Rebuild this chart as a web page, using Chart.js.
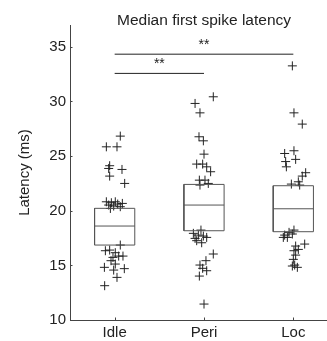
<!DOCTYPE html>
<html>
<head>
<meta charset="utf-8">
<script src="https://cdn.jsdelivr.net/npm/chart.js@4"></script>
<style>
  html, body { margin: 0; padding: 0; background: #fff; overflow: hidden; }
  #wrap { width: 327px; height: 341px; overflow: hidden; }
</style>
</head>
<body>
<div id="wrap"><canvas id="latencyChart" width="345" height="341"></canvas></div>
<script>
const categories = ['Idle', 'Peri', 'Loc'];
const yTicks = [10, 15, 20, 25, 30, 35];
const chartTitle = 'Median first spike latency';

// box edges per group (ms)
const q1 = [16.86, 18.17, 18.08];
const medians = [18.6, 20.52, 20.18];
const q3 = [20.22, 22.41, 22.29];

// individual recordings, latency (ms) and horizontal jitter (category units)
const idleLatency = [26.83, 25.85, 25.85, 24.12, 23.87, 23.78, 23.17, 22.5,
    20.82, 20.52, 20.73, 20.43, 20.82, 20.61, 20.37, 20.67, 20.21,
    16.86, 16.34, 16.4, 16.16, 15.85, 15.73, 15.85, 15.43, 15.12, 14.82, 14.57, 14.7, 13.9, 13.14];
const idleJitter = [0.063, -0.093, 0.026, -0.056, -0.067, 0.082, -0.056, 0.112,
    -0.093, -0.067, -0.037, -0.011, 0.007, 0.034, 0.063, 0.086, -0.048,
    0.063, -0.104, -0.056, 0.007, 0.045, -0.019, 0.093, -0.041, 0.007, -0.115, -0.011, 0.108, 0.026, -0.112];

const periLatency = [30.43, 29.82, 28.96, 26.77, 26.4, 25.18, 24.27, 24.27, 24.02, 23.57,
    22.8, 22.8, 22.5, 22.35,
    18.23, 17.93, 17.77, 17.68, 17.47, 17.56, 17.26, 17.07,
    16.04, 15.43, 15.03, 14.73, 14.51, 14.02, 11.46];
const periJitter = [0.104, -0.1, -0.045, -0.056, -0.007, 0, -0.082, -0.015, 0.03, 0.074,
    -0.052, 0.011, 0.048, -0.045,
    -0.034, -0.119, -0.063, -0.007, -0.1, 0.03, -0.082, -0.026,
    0.104, 0.022, -0.045, -0.015, 0.03, -0.052, 0];

const locLatency = [33.26, 28.96, 27.93, 25.49, 25.24, 24.7, 24.5, 24.02, 23.48, 23.17,
    22.65, 22.44, 22.35,
    18.23, 18.02, 17.77, 17.56, 17.56, 17.87, 16.95, 16.77, 16.46, 16.34, 15.94, 15.55,
    14.94, 14.82, 15.03];
const locJitter = [-0.011, 0.007, 0.1, 0.007, -0.097, 0.026, -0.086, -0.078, 0.138, 0.1,
    0.056, -0.022, 0.071,
    0.007, -0.048, -0.097, -0.067, -0.112, -0.011, 0.127, 0.026, 0.056, 0.007, 0.026, 0,
    -0.011, 0.045, 0.015];

// significance brackets: [from group, to group], height (ms), label
const sigPairs = [[1, 2], [1, 3]];
const sigHeights = [32.57, 34.33];
const sigLabels = ['**', '**'];

const boxHalf = 0.225;
const inkColor = '#222';
const boxColor = '#555';
const fontFamily = '"Liberation Sans", Arial, sans-serif';

function groupPoints(latency, jitter, groupIndex) {
    return latency.map((v, i) => ({ x: groupIndex + 1 + jitter[i], y: v }));
}

function lineDataset(points, color) {
    return {
        type: 'line',
        data: points,
        borderColor: color,
        borderWidth: 1,
        pointRadius: 0,
        fill: false,
        tension: 0,
    };
}

// title over the axes centre (axes run past the crop), inward ticks, ** marks
const decorations = {
    id: 'decorations',
    afterDraw(chart) {
        const ctx = chart.ctx;
        const xs = chart.scales.x;
        const ys = chart.scales.y;
        ctx.save();
        ctx.strokeStyle = '#444';
        ctx.lineWidth = 1;
        yTicks.forEach(t => {
            const py = Math.round(ys.getPixelForValue(t)) + 0.5;
            ctx.beginPath();
            ctx.moveTo(xs.left, py);
            ctx.lineTo(xs.left + 2.5, py);
            ctx.stroke();
        });
        categories.forEach((c, i) => {
            const px = Math.round(xs.getPixelForValue(i + 1)) + 0.5;
            ctx.beginPath();
            ctx.moveTo(px, ys.bottom);
            ctx.lineTo(px, ys.bottom - 2.5);
            ctx.stroke();
        });
        ctx.fillStyle = inkColor;
        ctx.textAlign = 'center';
        ctx.textBaseline = 'middle';
        ctx.font = '15.5px ' + fontFamily;
        ctx.fillText(chartTitle, (xs.left + xs.right) / 2, 21);
        ctx.font = '14px ' + fontFamily;
        ctx.textBaseline = 'bottom';
        sigPairs.forEach((pair, i) => {
            const mid = (pair[0] + pair[1]) / 2;
            ctx.fillText(sigLabels[i], xs.getPixelForValue(mid), ys.getPixelForValue(sigHeights[i]) - 2);
        });
        ctx.restore();
    }
};

document.addEventListener('DOMContentLoaded', function () {
    const datasets = [];

    categories.forEach((c, i) => {
        const cx = i + 1;
        datasets.push(lineDataset([
            { x: cx - boxHalf, y: q1[i] }, { x: cx + boxHalf, y: q1[i] },
            { x: cx + boxHalf, y: q3[i] }, { x: cx - boxHalf, y: q3[i] },
            { x: cx - boxHalf, y: q1[i] }
        ], boxColor));
        datasets.push(lineDataset([
            { x: cx - boxHalf, y: medians[i] }, { x: cx + boxHalf, y: medians[i] }
        ], boxColor));
    });

    sigPairs.forEach((pair, i) => {
        datasets.push(lineDataset([
            { x: pair[0], y: sigHeights[i] }, { x: pair[1], y: sigHeights[i] }
        ], inkColor));
    });

    [[idleLatency, idleJitter], [periLatency, periJitter], [locLatency, locJitter]].forEach((g, i) => {
        datasets.push({
            type: 'scatter',
            label: categories[i],
            data: groupPoints(g[0], g[1], i),
            pointStyle: 'cross',
            pointRadius: 4.5,
            pointBorderWidth: 1,
            borderColor: inkColor,
            backgroundColor: inkColor,
        });
    });

    const ctx = document.getElementById('latencyChart').getContext('2d');
    window.myChart = new Chart(ctx, {
        type: 'scatter',
        data: { datasets: datasets },
        plugins: [decorations],
        options: {
            responsive: false,
            animation: false,
            layout: { padding: { top: 25, right: 7, left: 0, bottom: 0 } },
            plugins: {
                legend: { display: false },
                tooltip: { enabled: false },
                title: { display: false },
            },
            scales: {
                x: {
                    type: 'linear',
                    min: 0.5,
                    max: 3.5,
                    afterFit: s => { s.height = 21; },
                    afterBuildTicks: s => { s.ticks = categories.map((c, i) => ({ value: i + 1 })); },
                    ticks: {
                        callback: v => categories[v - 1],
                        color: inkColor,
                        padding: 4,
                        maxRotation: 0,
                        font: { family: fontFamily, size: 15 },
                    },
                    grid: { display: false, drawTicks: false },
                    border: { color: '#444', width: 1 },
                },
                y: {
                    min: 10,
                    max: 37,
                    afterFit: s => { s.width = 70; },
                    afterBuildTicks: s => { s.ticks = yTicks.map(t => ({ value: t })); },
                    ticks: {
                        color: inkColor,
                        padding: 4,
                        font: { family: fontFamily, size: 15 },
                    },
                    title: {
                        display: true,
                        text: 'Latency (ms)',
                        color: inkColor,
                        padding: { top: 16, bottom: 0 },
                        font: { family: fontFamily, size: 15 },
                    },
                    grid: { display: false, drawTicks: false },
                    border: { color: '#444', width: 1 },
                },
            },
        },
    });
});
</script>
</body>
</html>
